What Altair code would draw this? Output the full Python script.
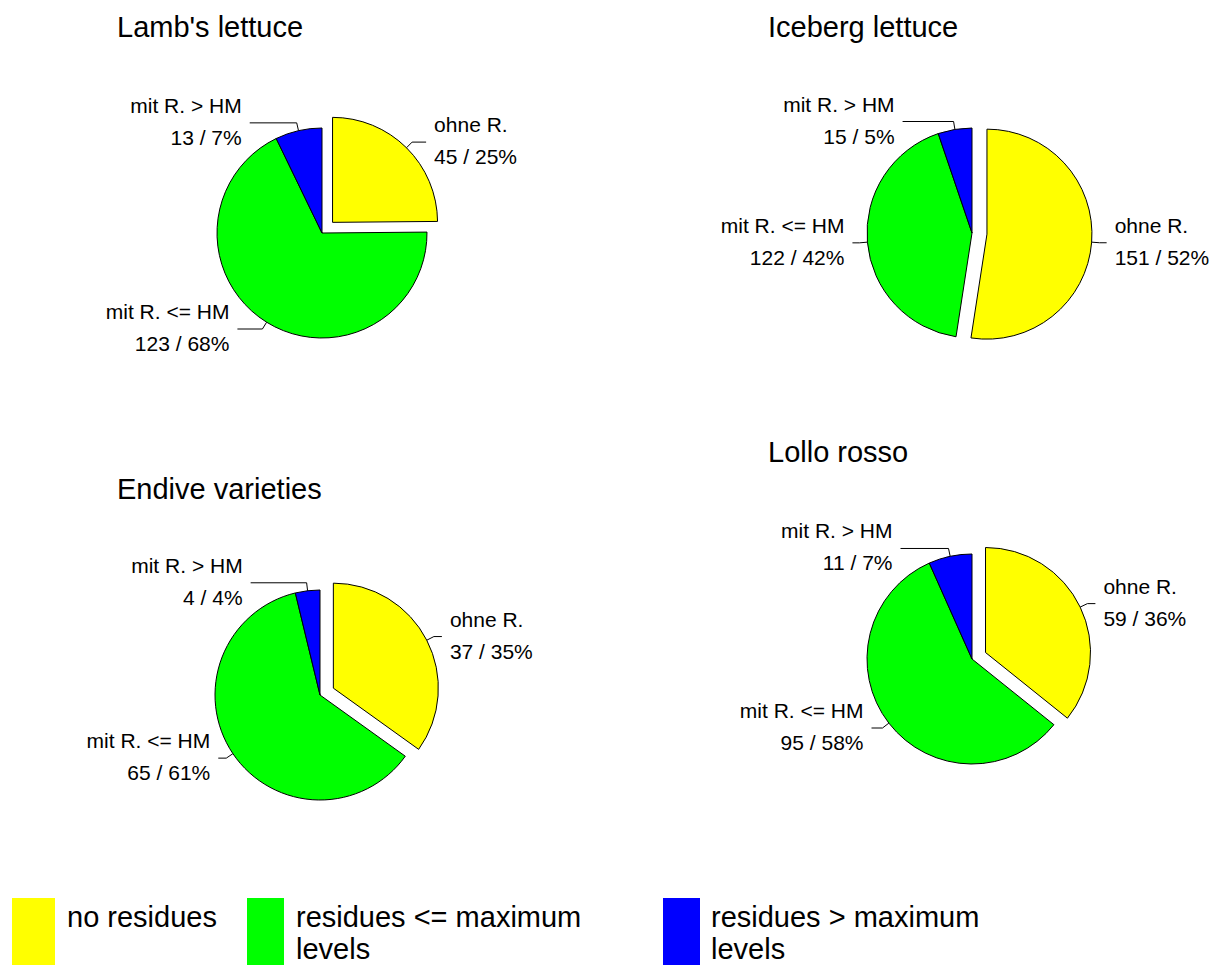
import altair as alt
import pandas as pd

# ---------------- data ----------------
panels = ["Lamb's lettuce", "Iceberg lettuce", "Endive varieties", "Lollo rosso"]
categories = ["ohne R.", "mit R. <= HM", "mit R. > HM"]
lamb_counts = [45, 123, 13]
iceberg_counts = [151, 122, 15]
endive_counts = [37, 65, 4]
lollo_counts = [59, 95, 11]
legend_line1 = ["no residues", "residues <= maximum", "residues > maximum"]
legend_line2 = ["", "levels", "levels"]
colors = ["#FFFF00", "#00FF00", "#0000FF"]

# ---------------- layout ----------------
R = 105
EXPLODE = 15
centers = {
    "Lamb's lettuce": (322, 233),
    "Iceberg lettuce": (972, 233),
    "Endive varieties": (320, 695),
    "Lollo rosso": (972, 659),
}
title_pos = {
    "Lamb's lettuce": (117, 28),
    "Iceberg lettuce": (768, 28),
    "Endive varieties": (117, 490),
    "Lollo rosso": (768, 453),
}
leader_len = {
    "Lamb's lettuce": [14, 25, 47],
    "Iceberg lettuce": [7, 7, 51],
    "Endive varieties": [8, 8, 56],
    "Lollo rosso": [8, 11, 48],
}
legend_x0 = [12, 247, 663]
legend_x1 = [55, 284, 700]
legend_text_x = [67, 296, 711]
FONT = "Liberation Sans"

all_counts = [lamb_counts, iceberg_counts, endive_counts, lollo_counts]
rows = []
for p, counts in zip(panels, all_counts):
    for i, (c, n) in enumerate(zip(categories, counts)):
        rows.append(dict(panel=p, cat=c, count=n, order=i,
                         cx=centers[p][0], cy=centers[p][1],
                         hlen=leader_len[p][i]))
df = pd.DataFrame(rows)

base = (
    alt.Chart(df)
    .transform_joinaggregate(total="sum(count)", groupby=["panel"])
    .transform_window(cum="sum(count)", groupby=["panel"],
                      sort=[alt.SortField("order", order="ascending")],
                      frame=[None, 0])
    .transform_calculate(
        t0="2*PI*(datum.cum - datum.count)/datum.total",
        t1="2*PI*datum.cum/datum.total",
    )
    .transform_calculate(mid="(datum.t0 + datum.t1)/2",
                         ex=f"datum.order == 0 ? {EXPLODE} : 0")
    .transform_calculate(
        ax="datum.cx + datum.ex*sin(datum.mid)",
        ay="datum.cy - datum.ex*cos(datum.mid)",
        side="sin(datum.mid) > 0 ? 1 : -1",
        pct="round(100*datum.count/datum.total)",
    )
    .transform_calculate(
        px=f"datum.ax + {R}*sin(datum.mid)",
        py=f"datum.ay - {R}*cos(datum.mid)",
        qx=f"datum.ax + {R + 8}*sin(datum.mid)",
        qy=f"datum.ay - {R + 8}*cos(datum.mid)",
        lab2="datum.count + ' / ' + datum.pct + '%'",
    )
    .transform_calculate(
        hx="datum.qx + datum.side*datum.hlen",
        ty1="datum.qy - 16",
        ty2="datum.qy + 16",
    )
    .transform_calculate(tx="datum.hx + datum.side*8")
)

color = alt.Color("cat:N", scale=alt.Scale(domain=categories, range=colors), legend=None)


def X(f):
    return alt.X(f + ":Q", scale=None, axis=None)


def Y(f):
    return alt.Y(f + ":Q", scale=None, axis=None)


arcs = base.mark_arc(radius=R, stroke="black", strokeWidth=1).encode(
    x=X("ax"), y=Y("ay"),
    theta=alt.Theta("t0:Q", scale=None), theta2=alt.Theta2("t1:Q"),
    color=color,
)

radial = base.mark_rule(color="black", strokeWidth=1).encode(
    x=X("px"), y=Y("py"), x2="qx:Q", y2="qy:Q")
horiz = base.mark_rule(color="black", strokeWidth=1).encode(
    x=X("qx"), y=Y("qy"), x2="hx:Q", y2="qy:Q")

text_layers = []
for side, align in [(1, "left"), (-1, "right")]:
    for yf, tf in [("ty1", "cat"), ("ty2", "lab2")]:
        text_layers.append(
            base.transform_filter(f"datum.side == {side}")
            .mark_text(align=align, baseline="middle", fontSize=21, font=FONT, color="black")
            .encode(x=X("tx"), y=Y(yf), text=alt.Text(tf + ":N"))
        )

tdf = pd.DataFrame({"panel": panels,
                    "tx": [title_pos[p][0] for p in panels],
                    "ty": [title_pos[p][1] for p in panels]})
titles = alt.Chart(tdf).mark_text(align="left", baseline="middle", fontSize=29,
                                  font=FONT, color="black").encode(
    x=X("tx"), y=Y("ty"), text="panel:N")

ldf = pd.DataFrame({"cat": categories, "l1": legend_line1, "l2": legend_line2,
                    "x0": legend_x0, "x1": legend_x1, "tx": legend_text_x})
leg_base = alt.Chart(ldf).transform_calculate(y0="898", y1="965", ty1="918", ty2="950")
leg_rect = leg_base.mark_rect().encode(x=X("x0"), x2="x1:Q", y=Y("y0"), y2="y1:Q", color=color)
leg_t1 = leg_base.mark_text(align="left", baseline="middle", fontSize=29, font=FONT,
                            color="black").encode(x=X("tx"), y=Y("ty1"), text="l1:N")
leg_t2 = leg_base.mark_text(align="left", baseline="middle", fontSize=29, font=FONT,
                            color="black").encode(x=X("tx"), y=Y("ty2"), text="l2:N")

chart = alt.layer(arcs, radial, horiz, *text_layers, titles, leg_rect, leg_t1, leg_t2).properties(
    width=1223, height=965, padding=0, autosize=alt.AutoSizeParams(type="none"),
    background="white",
).configure_view(stroke=None)

chart.save("out.html", embed_options={"renderer": "svg", "actions": False})
